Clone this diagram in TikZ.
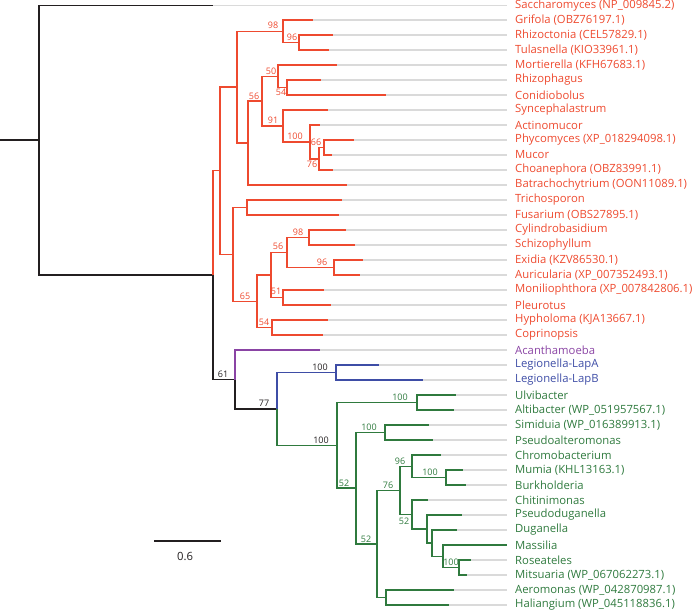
\documentclass[tikz,border=0pt]{standalone}
\usepackage{fontspec}
\setmainfont{Open Sans}
\usetikzlibrary{positioning}
\definecolor{fungired}{HTML}{EE4A2F}
\definecolor{amoebapurple}{HTML}{8A44A4}
\definecolor{legionblue}{HTML}{3E4DA6}
\definecolor{bactgreen}{HTML}{2F7A3E}
\definecolor{stemblack}{HTML}{231F20}
\definecolor{guidegray}{HTML}{DADADA}
\tikzset{
  stem_branch/.style={line width=1.5pt, draw=stemblack},
  fungi_branch/.style={line width=1.5pt, draw=fungired},
  amoeba_branch/.style={line width=1.5pt, draw=amoebapurple},
  legion_branch/.style={line width=1.5pt, draw=legionblue},
  bact_branch/.style={line width=1.5pt, draw=bactgreen},
  guide_line/.style={line width=1.5pt, draw=guidegray},
  taxon/.style={anchor=west, inner ysep=0pt, inner xsep=8pt, font=\fontsize{11.3}{13}\selectfont},
  support/.style={inner sep=0pt, font=\fontsize{9}{10}\selectfont},
  scale_bar/.style={line width=1.5pt, draw=stemblack},
  scale_text/.style={inner sep=0pt, font=\fontsize{11.3}{13}\selectfont, text=stemblack}
}

\begin{document}
\begin{tikzpicture}[x=1pt, y=-1pt]
  \useasboundingbox (0,0) rectangle (700,613);

  % taxa
  \node[taxon, text=fungired] (sacch) at (507,5.5) {Saccharomyces (NP\_009845.2)};
  \node[taxon, text=fungired] (grifola) at (507,20) {Grifola (OBZ76197.1)};
  \node[taxon, text=fungired] (rhizoctonia) at (507,35) {Rhizoctonia (CEL57829.1)};
  \node[taxon, text=fungired] (tulasnella) at (507,50) {Tulasnella (KIO33961.1)};
  \node[taxon, text=fungired] (mortierella) at (507,65) {Mortierella (KFH67683.1)};
  \node[taxon, text=fungired] (rhizophagus) at (507,80) {Rhizophagus};
  \node[taxon, text=fungired] (conidiobolus) at (507,95) {Conidiobolus};
  \node[taxon, text=fungired] (syncephalastrum) at (507,110) {Syncephalastrum};
  \node[taxon, text=fungired] (actinomucor) at (507,125) {Actinomucor};
  \node[taxon, text=fungired] (phycomyces) at (507,140) {Phycomyces (XP\_018294098.1)};
  \node[taxon, text=fungired] (mucor) at (507,155) {Mucor};
  \node[taxon, text=fungired] (choanephora) at (507,170) {Choanephora (OBZ83991.1)};
  \node[taxon, text=fungired] (batrachochytrium) at (507,185) {Batrachochytrium (OON11089.1)};
  \node[taxon, text=fungired] (trichosporon) at (507,200) {Trichosporon};
  \node[taxon, text=fungired] (fusarium) at (507,215) {Fusarium (OBS27895.1)};
  \node[taxon, text=fungired] (cylindrobasidium) at (507,230) {Cylindrobasidium};
  \node[taxon, text=fungired] (schizophyllum) at (507,245) {Schizophyllum};
  \node[taxon, text=fungired] (exidia) at (507,260) {Exidia (KZV86530.1)};
  \node[taxon, text=fungired] (auricularia) at (507,275) {Auricularia (XP\_007352493.1)};
  \node[taxon, text=fungired] (moniliophthora) at (507,290) {Moniliophthora (XP\_007842806.1)};
  \node[taxon, text=fungired] (pleurotus) at (507,305) {Pleurotus};
  \node[taxon, text=fungired] (hypholoma) at (507,320) {Hypholoma (KJA13667.1)};
  \node[taxon, text=fungired] (coprinopsis) at (507,335) {Coprinopsis};
  \node[taxon, text=amoebapurple] (acanthamoeba) at (507,350) {Acanthamoeba};
  \node[taxon, text=legionblue] (lapa) at (507,365) {Legionella-LapA};
  \node[taxon, text=legionblue] (lapb) at (507,380) {Legionella-LapB};
  \node[taxon, text=bactgreen] (ulvibacter) at (507,395) {Ulvibacter};
  \node[taxon, text=bactgreen] (altibacter) at (507,410) {Altibacter (WP\_051957567.1)};
  \node[taxon, text=bactgreen] (simiduia) at (507,425) {Simiduia (WP\_016389913.1)};
  \node[taxon, text=bactgreen] (pseudoalteromonas) at (507,440) {Pseudoalteromonas};
  \node[taxon, text=bactgreen] (chromobacterium) at (507,455) {Chromobacterium};
  \node[taxon, text=bactgreen] (mumia) at (507,470) {Mumia (KHL13163.1)};
  \node[taxon, text=bactgreen] (burkholderia) at (507,485) {Burkholderia};
  \node[taxon, text=bactgreen] (chitinimonas) at (507,500) {Chitinimonas};
  \node[taxon, text=bactgreen] (pseudoduganella) at (507,515) {Pseudoduganella};
  \node[taxon, text=bactgreen] (duganella) at (507,530) {Duganella};
  \node[taxon, text=bactgreen] (massilia) at (507,545) {Massilia};
  \node[taxon, text=bactgreen] (roseateles) at (507,560) {Roseateles};
  \node[taxon, text=bactgreen] (mitsuaria) at (507,575) {Mitsuaria (WP\_067062273.1)};
  \node[taxon, text=bactgreen] (aeromonas) at (507,590) {Aeromonas (WP\_042870987.1)};
  \node[taxon, text=bactgreen] (haliangium) at (507,605) {Haliangium (WP\_045118836.1)};

  % branch tips
  \coordinate (sacch_tip) at (213,5.5);
  \coordinate (grifola_tip) at (313,20);
  \coordinate (rhizoctonia_tip) at (333,35);
  \coordinate (tulasnella_tip) at (329,50);
  \coordinate (mortierella_tip) at (337,65);
  \coordinate (rhizophagus_tip) at (321,80);
  \coordinate (conidiobolus_tip) at (386,95);
  \coordinate (syncephalastrum_tip) at (328,110);
  \coordinate (actinomucor_tip) at (320,125);
  \coordinate (phycomyces_tip) at (354,140);
  \coordinate (mucor_tip) at (332,155);
  \coordinate (choanephora_tip) at (333,170);
  \coordinate (batrachochytrium_tip) at (347,185);
  \coordinate (trichosporon_tip) at (342,200);
  \coordinate (fusarium_tip) at (339,215);
  \coordinate (cylindrobasidium_tip) at (346,230);
  \coordinate (schizophyllum_tip) at (355,245);
  \coordinate (exidia_tip) at (363,260);
  \coordinate (auricularia_tip) at (360,275);
  \coordinate (moniliophthora_tip) at (324,290);
  \coordinate (pleurotus_tip) at (331,305);
  \coordinate (hypholoma_tip) at (328,320);
  \coordinate (coprinopsis_tip) at (323,335);
  \coordinate (acanthamoeba_tip) at (320,350);
  \coordinate (lapa_tip) at (379,365);
  \coordinate (lapb_tip) at (423,380);
  \coordinate (ulvibacter_tip) at (456,395);
  \coordinate (altibacter_tip) at (454,410);
  \coordinate (simiduia_tip) at (429,425);
  \coordinate (pseudoalteromonas_tip) at (433,440);
  \coordinate (chromobacterium_tip) at (441,455);
  \coordinate (mumia_tip) at (463,470);
  \coordinate (burkholderia_tip) at (466,485);
  \coordinate (chitinimonas_tip) at (428,500);
  \coordinate (pseudoduganella_tip) at (462,515);
  \coordinate (duganella_tip) at (457,530);
  \coordinate (massilia_tip) at (507,545);
  \coordinate (roseateles_tip) at (471,560);
  \coordinate (mitsuaria_tip) at (467,575);
  \coordinate (aeromonas_tip) at (454,590);
  \coordinate (haliangium_tip) at (449,605);

  % internal nodes
  \coordinate (root_stub) at (0,140);
  \coordinate (n_root) at (39,140);
  \coordinate (n_a) at (213,275.1);
  \coordinate (n_f) at (220,170.7);
  \coordinate (n_u) at (237,87.1);
  \coordinate (n_98a) at (283,31.25);
  \coordinate (n_96a) at (299,42.5);
  \coordinate (n_x) at (248,143);
  \coordinate (n_56a) at (262,101.1);
  \coordinate (n_50) at (278,76.25);
  \coordinate (n_54a) at (287,87.5);
  \coordinate (n_91) at (283,125.9);
  \coordinate (n_100a) at (310,141.9);
  \coordinate (n_76a) at (319,158.75);
  \coordinate (n_66) at (324,147.5);
  \coordinate (n_l) at (233,254.4);
  \coordinate (n_tri) at (247,207.5);
  \coordinate (n_65) at (257,301.25);
  \coordinate (n_56b) at (271,275);
  \coordinate (n_9896) at (287,252.5);
  \coordinate (n_98b) at (309,237.5);
  \coordinate (n_96b) at (334,267.5);
  \coordinate (n_51) at (283,297.5);
  \coordinate (n_54b) at (272,327.5);
  \coordinate (n_61) at (235,379.5);
  \coordinate (n_77) at (277,408.9);
  \coordinate (n_leg) at (336,372.5);
  \coordinate (n_g) at (337,445.3);
  \coordinate (n_ulv) at (417,402.5);
  \coordinate (n_g2) at (356,488);
  \coordinate (n_sim) at (385,432.5);
  \coordinate (n_52c) at (377,544);
  \coordinate (n_76b) at (400,490.4);
  \coordinate (n_96c) at (412,466.25);
  \coordinate (n_mum) at (446,477.5);
  \coordinate (n_chi) at (412,514.5);
  \coordinate (n_pdug) at (427,529);
  \coordinate (n_dug) at (432,543);
  \coordinate (n_mas) at (443,556.25);
  \coordinate (n_ros) at (459,567.5);
  \coordinate (n_aer) at (386,597.5);

  % grey guides to the labels
  \draw[guide_line] (sacch_tip) -- (sacch.west) (grifola_tip) -- (grifola.west)
    (rhizoctonia_tip) -- (rhizoctonia.west) (tulasnella_tip) -- (tulasnella.west)
    (mortierella_tip) -- (mortierella.west) (rhizophagus_tip) -- (rhizophagus.west)
    (conidiobolus_tip) -- (conidiobolus.west) (syncephalastrum_tip) -- (syncephalastrum.west)
    (actinomucor_tip) -- (actinomucor.west) (phycomyces_tip) -- (phycomyces.west)
    (mucor_tip) -- (mucor.west) (choanephora_tip) -- (choanephora.west)
    (batrachochytrium_tip) -- (batrachochytrium.west) (trichosporon_tip) -- (trichosporon.west)
    (fusarium_tip) -- (fusarium.west) (cylindrobasidium_tip) -- (cylindrobasidium.west)
    (schizophyllum_tip) -- (schizophyllum.west) (exidia_tip) -- (exidia.west)
    (auricularia_tip) -- (auricularia.west) (moniliophthora_tip) -- (moniliophthora.west)
    (pleurotus_tip) -- (pleurotus.west) (hypholoma_tip) -- (hypholoma.west)
    (coprinopsis_tip) -- (coprinopsis.west) (acanthamoeba_tip) -- (acanthamoeba.west)
    (lapa_tip) -- (lapa.west) (lapb_tip) -- (lapb.west)
    (ulvibacter_tip) -- (ulvibacter.west) (altibacter_tip) -- (altibacter.west)
    (simiduia_tip) -- (simiduia.west) (pseudoalteromonas_tip) -- (pseudoalteromonas.west)
    (chromobacterium_tip) -- (chromobacterium.west) (mumia_tip) -- (mumia.west)
    (burkholderia_tip) -- (burkholderia.west) (chitinimonas_tip) -- (chitinimonas.west)
    (pseudoduganella_tip) -- (pseudoduganella.west) (duganella_tip) -- (duganella.west)
    (roseateles_tip) -- (roseateles.west) (mitsuaria_tip) -- (mitsuaria.west)
    (aeromonas_tip) -- (aeromonas.west) (haliangium_tip) -- (haliangium.west);

  % backbone
  \draw[stem_branch] (root_stub) -- (n_root);
  \draw[stem_branch] (n_root) |- (sacch_tip) (n_root) |- (n_a) (n_a) |- (n_61) (n_61) |- (n_77);

  % fungi
  \draw[fungi_branch] (n_a) |- (n_f) (n_f) |- (n_u) (n_f) |- (n_l)
    (n_u) |- (n_98a) (n_u) |- (n_x)
    (n_98a) |- (grifola_tip) (n_98a) |- (n_96a)
    (n_96a) |- (rhizoctonia_tip) (n_96a) |- (tulasnella_tip)
    (n_x) |- (n_56a) (n_x) |- (batrachochytrium_tip)
    (n_56a) |- (n_50) (n_56a) |- (n_91)
    (n_50) |- (mortierella_tip) (n_50) |- (n_54a)
    (n_54a) |- (rhizophagus_tip) (n_54a) |- (conidiobolus_tip)
    (n_91) |- (syncephalastrum_tip) (n_91) |- (n_100a)
    (n_100a) |- (actinomucor_tip) (n_100a) |- (n_76a)
    (n_76a) |- (n_66) (n_76a) |- (choanephora_tip)
    (n_66) |- (phycomyces_tip) (n_66) |- (mucor_tip)
    (n_l) |- (n_tri) (n_l) |- (n_65)
    (n_tri) |- (trichosporon_tip) (n_tri) |- (fusarium_tip)
    (n_65) |- (n_56b) (n_65) |- (n_54b)
    (n_56b) |- (n_9896) (n_56b) |- (n_51)
    (n_9896) |- (n_98b) (n_9896) |- (n_96b)
    (n_98b) |- (cylindrobasidium_tip) (n_98b) |- (schizophyllum_tip)
    (n_96b) |- (exidia_tip) (n_96b) |- (auricularia_tip)
    (n_51) |- (moniliophthora_tip) (n_51) |- (pleurotus_tip)
    (n_54b) |- (hypholoma_tip) (n_54b) |- (coprinopsis_tip);

  % amoeba and legionella
  \draw[amoeba_branch] (n_61) |- (acanthamoeba_tip);
  \draw[legion_branch] (n_77) |- (n_leg) (n_leg) |- (lapa_tip) (n_leg) |- (lapb_tip);

  % bacteria
  \draw[bact_branch] (n_77) |- (n_g) (n_g) |- (n_ulv) (n_g) |- (n_g2)
    (n_ulv) |- (ulvibacter_tip) (n_ulv) |- (altibacter_tip)
    (n_g2) |- (n_sim) (n_g2) |- (n_52c)
    (n_sim) |- (simiduia_tip) (n_sim) |- (pseudoalteromonas_tip)
    (n_52c) |- (n_76b) (n_52c) |- (n_aer)
    (n_76b) |- (n_96c) (n_76b) |- (n_chi)
    (n_96c) |- (chromobacterium_tip) (n_96c) |- (n_mum)
    (n_mum) |- (mumia_tip) (n_mum) |- (burkholderia_tip)
    (n_chi) |- (chitinimonas_tip) (n_chi) |- (n_pdug)
    (n_pdug) |- (pseudoduganella_tip) (n_pdug) |- (n_dug)
    (n_dug) |- (duganella_tip) (n_dug) |- (n_mas)
    (n_mas) |- (massilia_tip) (n_mas) |- (n_ros)
    (n_ros) |- (roseateles_tip) (n_ros) |- (mitsuaria_tip)
    (n_aer) |- (aeromonas_tip) (n_aer) |- (haliangium_tip);

  % bootstrap values
  \node[support, text=fungired] (bs_98a) at (273,25) {98};
  \node[support, text=fungired] (bs_96a) at (292,37) {96};
  \node[support, text=fungired] (bs_50) at (271,71) {50};
  \node[support, text=fungired] (bs_54a) at (281,92) {54};
  \node[support, text=fungired] (bs_56a) at (254,96) {56};
  \node[support, text=fungired] (bs_91) at (273,120) {91};
  \node[support, text=fungired] (bs_100a) at (295,136) {100};
  \node[support, text=fungired] (bs_66) at (316,142) {66};
  \node[support, text=fungired] (bs_76a) at (312,164) {76};
  \node[support, text=fungired] (bs_98b) at (298,232) {98};
  \node[support, text=fungired] (bs_56b) at (278,246) {56};
  \node[support, text=fungired] (bs_96b) at (322,262) {96};
  \node[support, text=fungired] (bs_51) at (276,291) {51};
  \node[support, text=fungired] (bs_65) at (245,296) {65};
  \node[support, text=fungired] (bs_54b) at (264,322) {54};
  \node[support, text=stemblack] (bs_61) at (223,374) {61};
  \node[support, text=stemblack] (bs_leg) at (320,367) {100};
  \node[support, text=stemblack] (bs_77) at (264,403) {77};
  \node[support, text=stemblack] (bs_g) at (321,440) {100};
  \node[support, text=bactgreen] (bs_ulv) at (400,397) {100};
  \node[support, text=bactgreen] (bs_sim) at (369,427) {100};
  \node[support, text=bactgreen] (bs_96c) at (400,461) {96};
  \node[support, text=bactgreen] (bs_mum) at (430,472) {100};
  \node[support, text=bactgreen] (bs_76b) at (388,485) {76};
  \node[support, text=bactgreen] (bs_52a) at (344,483) {52};
  \node[support, text=bactgreen] (bs_52b) at (404,521) {52};
  \node[support, text=bactgreen] (bs_52c) at (366,539) {52};
  \node[support, text=bactgreen] (bs_ros) at (451,562) {100};

  % scale
  \coordinate (bar_left) at (154,541);
  \coordinate (bar_right) at (221,541);
  \draw[scale_bar] (bar_left) -- (bar_right);
  \node[scale_text] (bar_label) at (185,556) {0.6};
\end{tikzpicture}
\end{document}
